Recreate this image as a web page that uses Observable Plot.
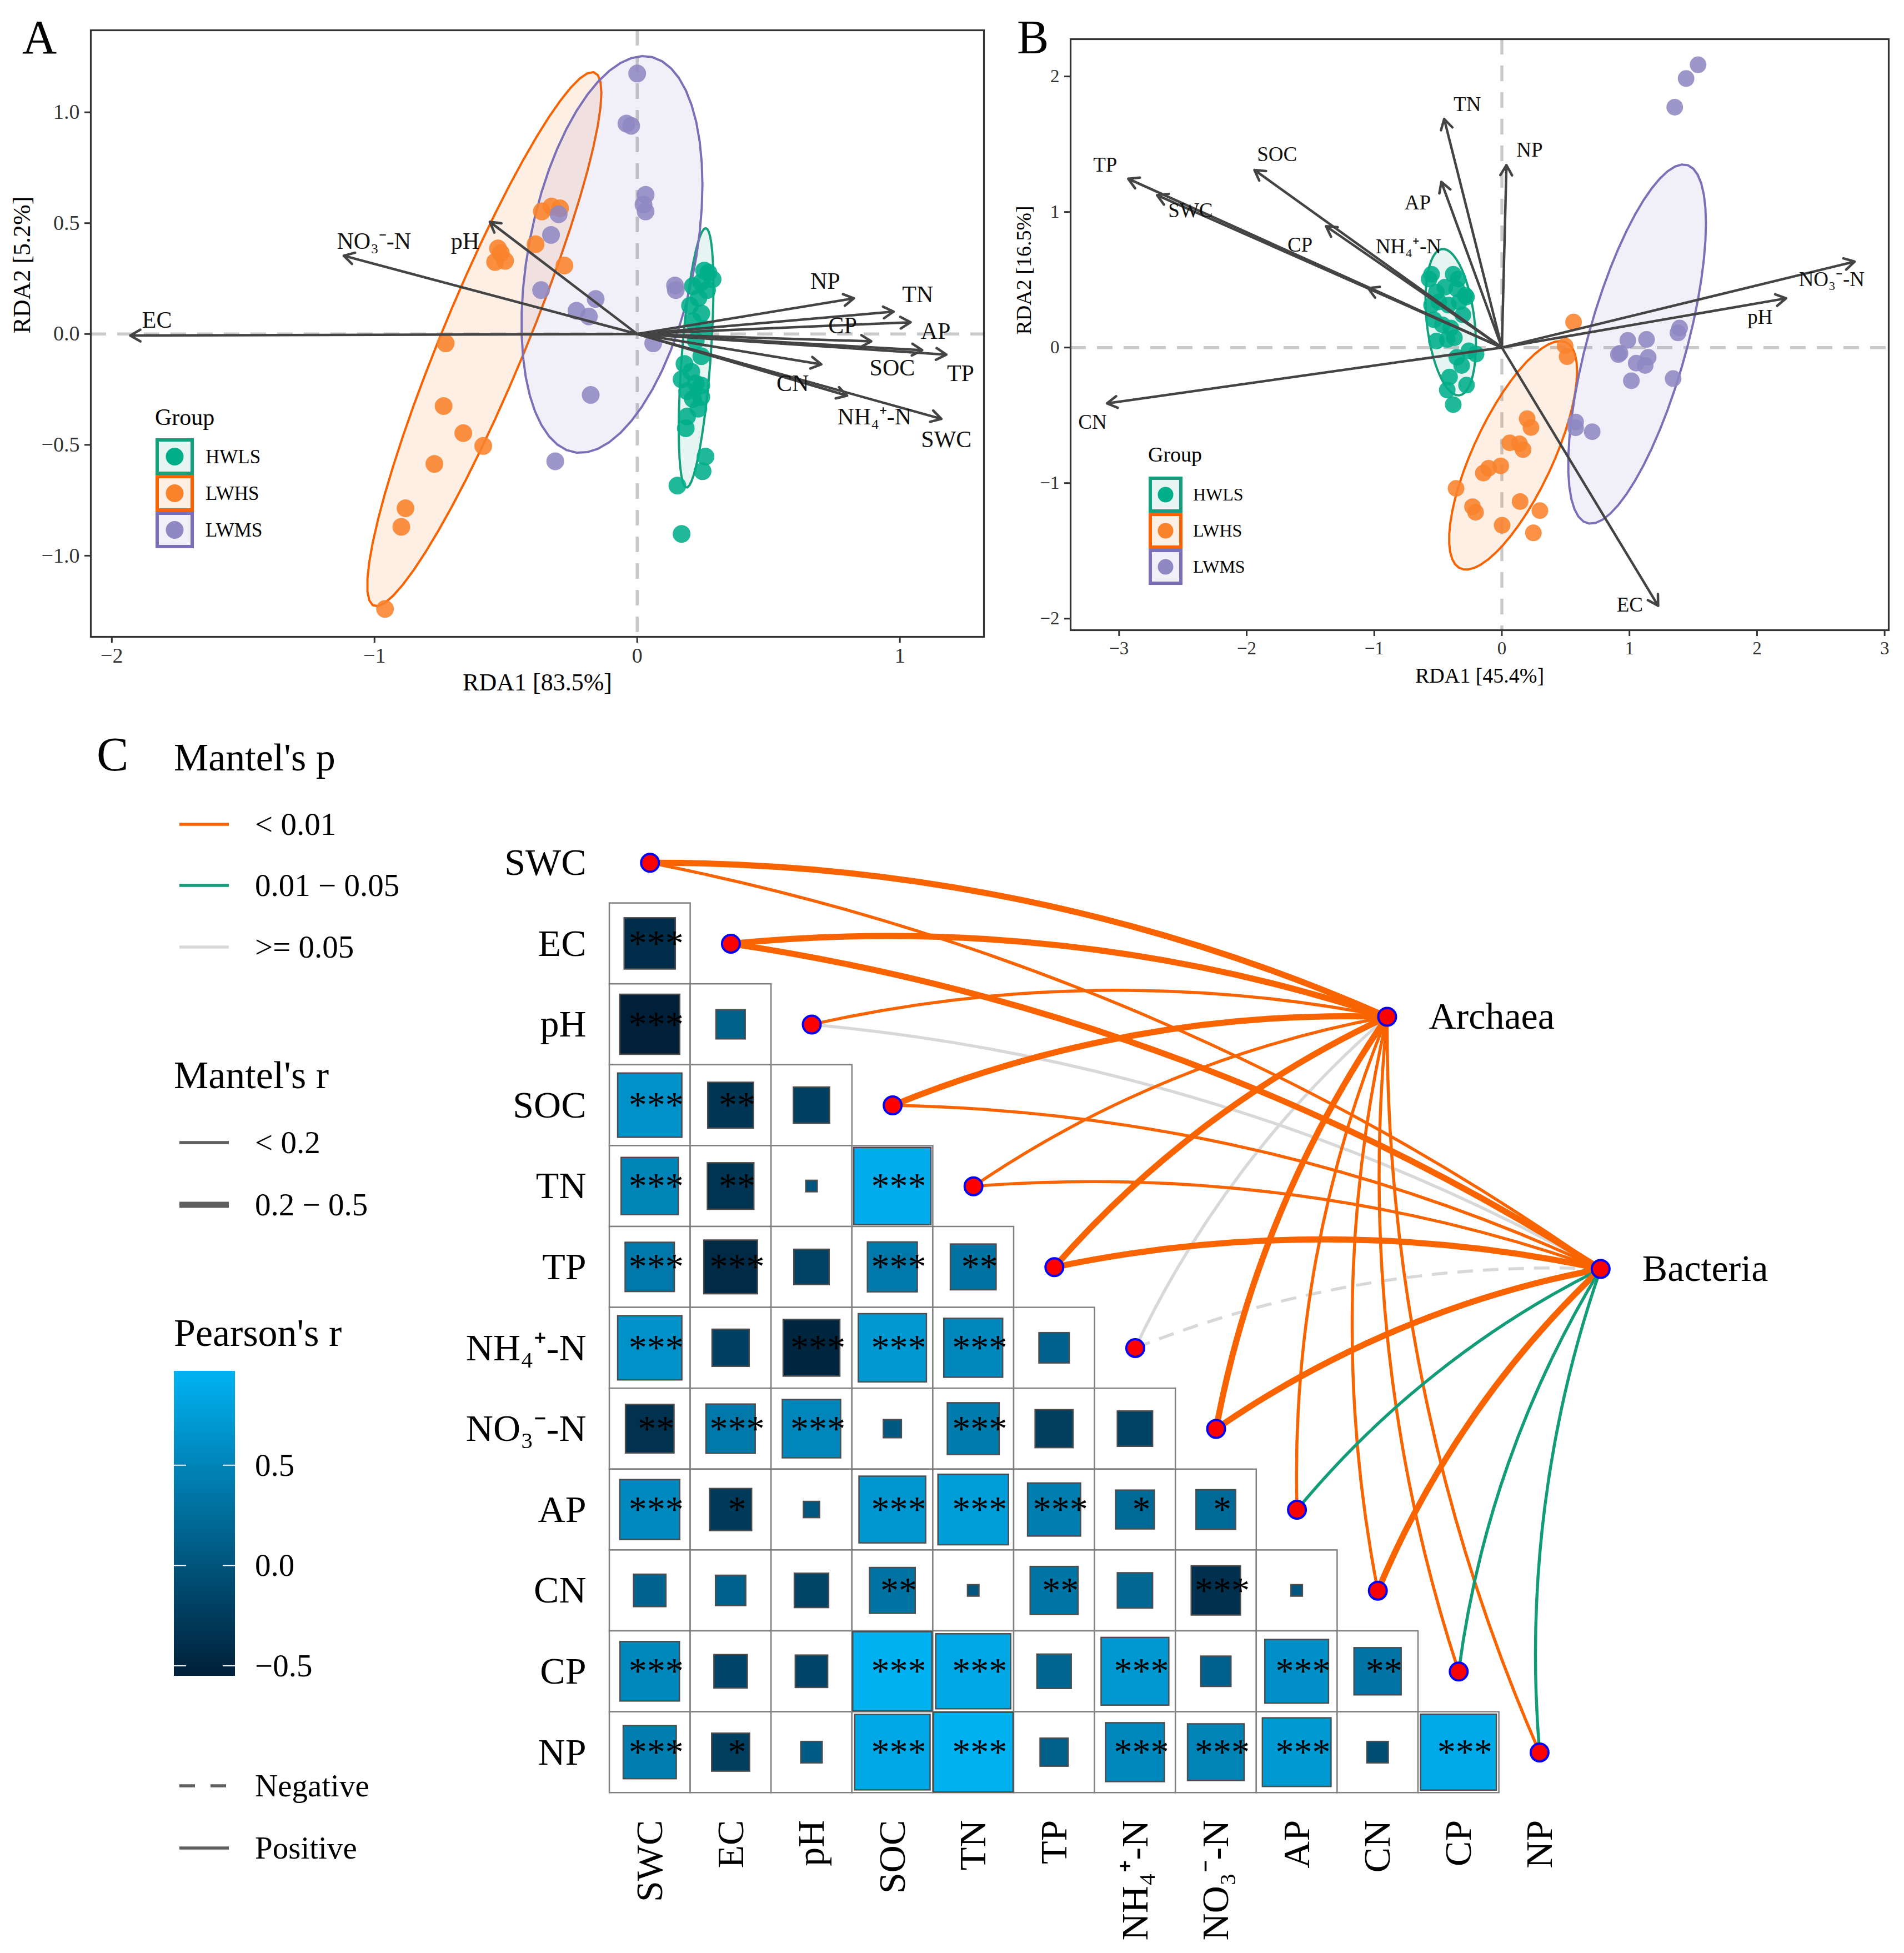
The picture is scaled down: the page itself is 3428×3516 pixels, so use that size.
<!DOCTYPE html>
<html><head><meta charset="utf-8">
<script src="https://cdn.jsdelivr.net/npm/d3@7"></script>
<script src="https://cdn.jsdelivr.net/npm/@observablehq/plot@0.6"></script>
<style>
body{margin:0;background:#fff;}
#fig{position:relative;width:3428px;height:3516px;background:#fff;overflow:hidden;}
.pane{position:absolute;}
</style></head><body><div id="fig"></div>
<script>
// ---------------- DATA ----------------
const groups = ["HWLS", "LWHS", "LWMS"];
const groupPointColor = ["#00AE8A", "#F9822A", "#9088C2"];
const groupLineColor = ["#13A07C", "#F86200", "#7A70B8"];

// Panel A sample scores
const aHWLSx = [0.212,0.244,0.271,0.287,0.266,0.233,0.244,0.212,0.255,0.223,0.244,0.180,0.206,0.169,0.223,0.244,0.190,0.212,0.244,0.233,0.190,0.185,0.255,0.201,0.260,0.249,0.153,0.169];
const aHWLSy = [0.216,0.233,0.277,0.247,0.198,0.163,0.093,0.058,0.023,-0.030,-0.100,-0.135,-0.170,-0.205,-0.223,-0.232,-0.258,-0.293,-0.284,-0.337,-0.372,-0.425,0.286,0.128,-0.553,-0.619,-0.684,-0.902];
const aLWHSx = [-0.363,-0.326,-0.294,-0.387,-0.530,-0.541,-0.503,-0.519,-0.277,-0.729,-0.737,-0.662,-0.586,-0.772,-0.882,-0.898,-0.960];
const aLWHSy = [0.553,0.575,0.567,0.405,0.386,0.325,0.330,0.365,0.309,-0.042,-0.325,-0.447,-0.505,-0.586,-0.786,-0.870,-1.240];
const aLWMSx = [0.000,-0.041,-0.023,0.032,0.024,0.032,-0.299,-0.328,-0.366,-0.158,-0.231,-0.184,0.144,0.147,0.061,-0.177,-0.312];
const aLWMSy = [1.175,0.949,0.939,0.628,0.584,0.553,0.540,0.447,0.198,0.158,0.105,0.079,0.219,0.198,-0.042,-0.275,-0.574];

// Panel A environmental vectors
const aEnv  = ["EC","NO₃⁻-N","pH","NP","TN","CP","AP","SOC","TP","CN","NH₄⁺-N","SWC"];
const aRDA1 = [-1.930,-1.117,-0.561,0.825,0.976,0.891,1.041,1.085,1.177,0.701,0.799,1.158];
const aRDA2 = [-0.007,0.353,0.506,0.161,0.101,-0.033,0.053,-0.073,-0.093,-0.137,-0.278,-0.383];
const aLabX = [-1.828,-1.002,-0.655,0.716,1.068,0.782,1.136,0.971,1.231,0.592,0.903,1.177];
const aLabY = [0.063,0.417,0.417,0.237,0.177,0.037,0.011,-0.153,-0.179,-0.223,-0.373,-0.477];

// Panel B sample scores
const bHWLSx = [-0.551,-0.570,-0.381,-0.343,-0.513,-0.447,-0.353,-0.287,-0.551,-0.494,-0.419,-0.334,-0.277,-0.466,-0.400,-0.513,-0.428,-0.372,-0.259,-0.202,-0.353,-0.315,-0.410,-0.277,-0.428,-0.381,-0.532,-0.306];
const bHWLSy = [0.541,0.505,0.541,0.505,0.409,0.445,0.433,0.385,0.313,0.337,0.313,0.337,0.373,0.168,0.144,0.048,0.060,0.072,-0.024,-0.048,-0.072,-0.132,-0.217,-0.277,-0.313,-0.421,0.205,0.241];
const bLWHSx = [0.562,0.496,0.511,0.198,0.228,0.062,0.138,0.166,-0.009,-0.104,-0.145,-0.359,-0.230,-0.206,0.143,0.298,0.002,0.247];
const bLWHSy = [0.188,0.012,-0.067,-0.525,-0.590,-0.703,-0.710,-0.753,-0.873,-0.890,-0.926,-1.039,-1.174,-1.215,-1.136,-1.203,-1.311,-1.367];
const bLWMSx = [1.538,1.444,1.355,1.393,1.380,0.987,1.134,0.926,0.913,1.147,1.053,1.123,1.015,1.342,0.578,0.578,0.708];
const bLWMSy = [2.086,1.985,1.773,0.144,0.108,0.053,0.060,-0.042,-0.052,-0.072,-0.115,-0.132,-0.245,-0.229,-0.549,-0.592,-0.621];

// Panel B environmental vectors
const bEnv  = ["TP","SWC","SOC","CP","NH₄⁺-N","AP","TN","NP","NO₃⁻-N","pH","EC","CN"];
const bRDA1 = [-2.928,-2.702,-1.939,-1.378,-1.048,-0.474,-0.452,0.036,2.765,2.228,1.225,-3.095];
const bRDA2 = [1.245,1.124,1.310,0.895,0.438,1.222,1.686,1.346,0.634,0.363,-1.905,-0.412];
const bLabX = [-3.109,-2.440,-1.762,-1.582,-0.732,-0.660,-0.271,0.217,2.585,2.024,1.003,-3.208];
const bLabY = [1.346,1.010,1.425,0.755,0.742,1.069,1.794,1.458,0.503,0.225,-1.899,-0.549];

// Panel C: environmental variables, Pearson's r (lower triangle, row by row)
const envVars = ["SWC","EC","pH","SOC","TN","TP","NH₄⁺-N","NO₃⁻-N","AP","CN","CP","NP"];
const pearsonR = [
  [],
  [-0.40],
  [-0.55, 0.13],
  [0.63, -0.32, -0.20],
  [0.50, -0.33, 0.02, 0.91],
  [0.37, -0.44, -0.19, 0.38, 0.32],
  [0.63, -0.21, -0.49, 0.71, 0.53, 0.14],
  [-0.36, 0.37, 0.52, 0.05, 0.41, -0.22, -0.19],
  [0.55, -0.27, 0.04, 0.68, 0.76, 0.43, 0.23, 0.24],
  [0.16, 0.14, -0.18, 0.32, 0.02, 0.35, 0.19, -0.37, 0.02],
  [0.54, -0.17, -0.16, 0.96, 0.86, 0.18, 0.70, 0.14, 0.62, 0.34],
  [0.43, -0.22, 0.07, 0.87, 0.97, 0.12, 0.53, 0.49, 0.72, -0.07, 0.88]
];
const pearsonSig = [
  [],
  ["***"],
  ["***",""],
  ["***","**",""],
  ["***","**","","***"],
  ["***","***","","***","**"],
  ["***","","***","***","***",""],
  ["**","***","***","","***","",""],
  ["***","*","","***","***","***","*","*"],
  ["","","","**","","**","","***",""],
  ["***","","","***","***","","***","","***","**"],
  ["***","*","","***","***","","***","***","***","","***"]
];

// Mantel tests
const mantelTargets = ["Archaea", "Bacteria"];
const pClasses = ["< 0.01", "0.01 − 0.05", ">= 0.05"];
const rClasses = ["< 0.2", "0.2 − 0.5"];
const mantelP = [
  ["< 0.01","< 0.01","< 0.01","< 0.01","< 0.01","< 0.01",">= 0.05","< 0.01","< 0.01","< 0.01","< 0.01","< 0.01"],
  ["< 0.01","< 0.01",">= 0.05","< 0.01","< 0.01","< 0.01",">= 0.05","< 0.01","0.01 − 0.05","< 0.01","0.01 − 0.05","0.01 − 0.05"]
];
const mantelRclass = [
  ["0.2 − 0.5","0.2 − 0.5","< 0.2","0.2 − 0.5","< 0.2","0.2 − 0.5","< 0.2","0.2 − 0.5","< 0.2","< 0.2","< 0.2","< 0.2"],
  ["< 0.2","0.2 − 0.5","< 0.2","< 0.2","< 0.2","0.2 − 0.5","< 0.2","0.2 − 0.5","< 0.2","0.2 − 0.5","< 0.2","< 0.2"]
];
const mantelSign = [
  ["Positive","Positive","Positive","Positive","Positive","Positive","Positive","Positive","Positive","Positive","Positive","Positive"],
  ["Positive","Positive","Positive","Positive","Positive","Positive","Negative","Positive","Positive","Positive","Positive","Positive"]
];
// layout positions of the two community nodes (grid units)
const targetX = [9.615, 12.255];
const targetY = [2.404, 5.522];

// ---------------- STYLE ----------------
const FONT = '"Liberation Serif","Times New Roman",Times,serif';
const pColor = {"< 0.01": "#F96400", "0.01 − 0.05": "#139C78", ">= 0.05": "#D8D8D8"};
const rWidth = {"< 0.2": 5.5, "0.2 − 0.5": 11};
const lowCol = "#001F38", highCol = "#00B2F2";
const arrowCol = "#444444";
const zeroCol = "#C9C9C9";
const ellipseLevel = 0.88;

const fig = document.getElementById("fig");
function place(node, left, top) {
  const d = document.createElement("div");
  d.className = "pane"; d.style.left = left + "px"; d.style.top = top + "px";
  d.appendChild(node); fig.appendChild(d);
}

// robust t ellipse like ggplot2::stat_ellipse(type = "t")
function tEllipse(xs, ys, level, segments = 51) {
  const n = xs.length, nu = 5, p = 2;
  let loc = [d3.mean(xs), d3.mean(ys)];
  let w = new Array(n).fill(1), X;
  for (let it = 0; it < 25; it++) {
    const w0 = w.slice();
    X = xs.map((x, i) => [x - loc[0], ys[i] - loc[1]]);
    const sw = d3.sum(w);
    let a = 0, b = 0, c = 0;
    X.forEach(([u, v], i) => { a += w[i]*u*u; b += w[i]*u*v; c += w[i]*v*v; });
    a /= sw; b /= sw; c /= sw;
    const det = a*c - b*b;
    const Q = X.map(([u, v]) => (c*u*u - 2*b*u*v + a*v*v) / det);
    w = Q.map(q => (nu + p) / (nu + q));
    const s2 = d3.sum(w);
    loc = [d3.sum(xs, (x, i) => w[i]*x) / s2, d3.sum(ys, (y, i) => w[i]*y) / s2];
    if (d3.max(w, (wi, i) => Math.abs(wi - w0[i])) < 0.01) break;
  }
  let a = 0, b = 0, c = 0;
  X.forEach(([u, v], i) => { a += w[i]*u*u; b += w[i]*u*v; c += w[i]*v*v; });
  a /= n; b /= n; c /= n;
  const dfd = n - 1;
  const qf = dfd / 2 * (Math.pow(1 - level, -2 / dfd) - 1);
  const radius = Math.sqrt(2 * qf);
  const r11 = Math.sqrt(a), r12 = b / r11, r22 = Math.sqrt(Math.max(c - r12*r12, 1e-12));
  return d3.range(segments + 1).map(k => {
    const t = k * 2 * Math.PI / segments, ct = Math.cos(t), st = Math.sin(t);
    return {x: loc[0] + radius * ct * r11, y: loc[1] + radius * (ct * r12 + st * r22)};
  });
}

function ordPlot(cfg) {
  const pts = [];
  cfg.sets.forEach(([xs, ys], g) => xs.forEach((x, i) => pts.push({g, x, y: ys[i]})));
  const vec = cfg.env.map((name, i) => ({name, x: cfg.rda1[i], y: cfg.rda2[i], lx: cfg.labx[i], ly: cfg.laby[i]}));
  const ellMarks = cfg.sets.map(([xs, ys], g) =>
    Plot.line(tEllipse(xs, ys, ellipseLevel), {x: "x", y: "y", curve: "linear-closed", fill: groupLineColor[g], fillOpacity: 0.1,
      stroke: groupLineColor[g], strokeWidth: 4}));
  return Plot.plot({
    width: cfg.width, height: cfg.height,
    marginLeft: cfg.ml, marginRight: cfg.mr, marginTop: cfg.mt, marginBottom: cfg.mb,
    x: {domain: cfg.xd}, y: {domain: cfg.yd},
    style: {fontFamily: FONT, background: "transparent", overflow: "visible", color: "#000"},
    marks: [
      Plot.ruleX([0], {stroke: zeroCol, strokeWidth: 5.5, strokeDasharray: "28,20"}),
      Plot.ruleY([0], {stroke: zeroCol, strokeWidth: 5.5, strokeDasharray: "28,20"}),
      ...ellMarks,
      Plot.dot(pts, {x: "x", y: "y", r: cfg.pr, fill: d => groupPointColor[d.g], fillOpacity: 0.88}),
      Plot.arrow(vec, {x1: () => 0, y1: () => 0, x2: "x", y2: "y", stroke: arrowCol, strokeWidth: 4.5, headLength: 7}),
      Plot.text(vec, {x: "lx", y: "ly", text: "name", fontSize: cfg.lfs, lineAnchor: "middle", fill: "#111"}),
      Plot.frame({stroke: "#333", strokeWidth: 3.2}),
      Plot.axisX({ticks: cfg.xt, tickFormat: d3.format(cfg.xf), tickSize: 11, tickPadding: 9, fontSize: cfg.tfs, label: null, color: "#333", strokeWidth: 3}),
      Plot.axisY({ticks: cfg.yt, tickFormat: d3.format(cfg.yf), tickSize: 11, tickPadding: 9, fontSize: cfg.tfs, label: null, color: "#333", strokeWidth: 3}),
      Plot.text([cfg.xlab], {frameAnchor: "bottom", dy: 82, lineAnchor: "middle", fontSize: cfg.afs}),
      Plot.text([cfg.ylab], {frameAnchor: "left", dx: cfg.ydx, rotate: -90, lineAnchor: "middle", fontSize: cfg.afs})
    ]
  });
}

const plotA = ordPlot({
  width: 1800, height: 1260, ml: 163, mr: 29, mt: 54, mb: 114,
  xd: [-2.080, 1.320], yd: [-1.366, 1.370],
  sets: [[aHWLSx, aHWLSy], [aLWHSx, aLWHSy], [aLWMSx, aLWMSy]],
  env: aEnv, rda1: aRDA1, rda2: aRDA2, labx: aLabX, laby: aLabY,
  xt: [-2, -1, 0, 1], yt: [-1, -0.5, 0, 0.5, 1], xf: "d", yf: ".1f",
  pr: 16, lfs: 42, tfs: 38, afs: 44, xlab: "RDA1 [83.5%]", ylab: "RDA2 [5.2%]", ydx: -124
});
place(plotA, 0, 0);

const plotB = ordPlot({
  width: 1628, height: 1260, ml: 127, mr: 28, mt: 70, mb: 126,
  xd: [-3.380, 3.032], yd: [-2.085, 2.275],
  sets: [[bHWLSx, bHWLSy], [bLWHSx, bLWHSy], [bLWMSx, bLWMSy]],
  env: bEnv, rda1: bRDA1, rda2: bRDA2, labx: bLabX, laby: bLabY,
  xt: [-3, -2, -1, 0, 1, 2, 3], yt: [-2, -1, 0, 1, 2], xf: "d", yf: "d",
  pr: 15, lfs: 37, tfs: 33, afs: 38, xlab: "RDA1 [45.4%]", ylab: "RDA2 [16.5%]", ydx: -84
});
place(plotB, 1800, 0);

// ---------------- PANEL C ----------------
const cells = [];
pearsonR.forEach((row, i) => row.forEach((r, j) => cells.push({i, j, r, sig: pearsonSig[i][j]})));
const allR = cells.map(d => d.r);
const rDomain = [d3.min(allR), d3.max(allR)];
const half = d => Math.sqrt(Math.abs(d.r)) / 2;
const envNodes = envVars.map((v, i) => ({v, i, x: i + 0.5, y: i + 0.5}));
const links = [];
mantelTargets.forEach((t, k) => envVars.forEach((v, i) => links.push({
  target: t, env: v, x1: i + 0.5, y1: i + 0.5, x2: targetX[k], y2: targetY[k],
  p: mantelP[k][i], rc: mantelRclass[k][i], sign: mantelSign[k][i]
})));
const grey = links.filter(d => d.p === ">= 0.05");
const sig = links.filter(d => d.p !== ">= 0.05");
const targets = mantelTargets.map((t, k) => ({t, x: targetX[k], y: targetY[k]}));
const linkOpts = {x1: "x1", y1: "y1", x2: "x2", y2: "y2", bend: 12, headLength: 0,
  stroke: d => pColor[d.p], strokeWidth: d => rWidth[d.rc], strokeLinecap: "butt"};

const plotC = Plot.plot({
  width: 2628, height: 2116,
  x: {domain: [0, 12], range: [297, 297 + 12 * 145.6], axis: null},
  y: {domain: [0, 12], range: [80, 80 + 12 * 145.6], axis: null},
  color: {type: "linear", domain: rDomain, range: [lowCol, highCol]},
  style: {fontFamily: FONT, background: "transparent", overflow: "visible", color: "#000"},
  marks: [
    Plot.rect(cells, {x1: d => d.j, x2: d => d.j + 1, y1: d => d.i, y2: d => d.i + 1, fill: "white", stroke: "#808080", strokeWidth: 2.5}),
    Plot.rect(cells, {x1: d => d.j + 0.5 - half(d), x2: d => d.j + 0.5 + half(d), y1: d => d.i + 0.5 - half(d), y2: d => d.i + 0.5 + half(d),
      fill: "r", stroke: "#4D4D4D", strokeWidth: 2.5}),
    Plot.text(cells.filter(d => d.sig), {x: d => d.j + 0.5, y: d => d.i + 0.5, text: "sig", fontSize: 66, dx: 11, lineAnchor: "middle"}),
    Plot.arrow(grey.filter(d => d.sign === "Positive"), linkOpts),
    Plot.arrow(grey.filter(d => d.sign === "Negative"), {...linkOpts, strokeDasharray: "28,18"}),
    Plot.arrow(sig.filter(d => d.sign === "Positive"), linkOpts),
    Plot.arrow(sig.filter(d => d.sign === "Negative"), {...linkOpts, strokeDasharray: "28,18"}),
    Plot.dot([...envNodes, ...targets], {x: "x", y: "y", r: 16, fill: "#FF0000", stroke: "#0000FF", strokeWidth: 4}),
    Plot.text(envNodes, {x: () => 0, y: "y", text: "v", textAnchor: "end", dx: -42, fontSize: 68, lineAnchor: "middle"}),
    Plot.text(envNodes, {x: "x", y: () => 12, text: "v", rotate: -90, textAnchor: "end", dy: 49, fontSize: 68, lineAnchor: "middle"}),
    Plot.text(targets, {x: "x", y: "y", text: "t", textAnchor: "start", dx: 75, fontSize: 68, lineAnchor: "middle"})
  ]
});
place(plotC, 800, 1400);

// ---------------- LEGENDS (overlay) ----------------
function groupLegend(x, y0, kw, kh, pr, tfs, lfs, titleBase, labX) {
  let s = `<text x="${x - 1}" y="${titleBase}" font-size="${tfs}">Group</text>`;
  groups.forEach((g, k) => {
    const y = y0 + k * kh;
    s += `<rect x="${x + 3}" y="${y + 3}" width="${kw - 6}" height="${kh - 6}" fill="${groupLineColor[k]}" fill-opacity="0.1" stroke="${groupLineColor[k]}" stroke-width="6"/>`;
    s += `<circle cx="${x + kw / 2}" cy="${y + kh / 2}" r="${pr}" fill="${groupPointColor[k]}"/>`;
    s += `<text x="${labX}" y="${y + kh / 2 + lfs * 0.34}" font-size="${lfs}">${g}</text>`;
  });
  return s;
}
const stops = d3.range(0, 21).map(k => `<stop offset="${k / 20}" stop-color="${d3.interpolateRgb(lowCol, highCol)(k / 20)}"/>`).join("");
const barTop = 2468, barBot = 3017;
const yBar = v => barBot - (v - rDomain[0]) / (rDomain[1] - rDomain[0]) * (barBot - barTop);
let ov = `<svg xmlns="http://www.w3.org/2000/svg" width="3428" height="3516" style="position:absolute;left:0;top:0;pointer-events:none" font-family='${FONT}'>`;
ov += `<defs><linearGradient id="pr" x1="0" y1="1" x2="0" y2="0">${stops}</linearGradient></defs>`;
ov += `<text x="40" y="96" font-size="86">A</text><text x="1831" y="96" font-size="86">B</text><text x="174" y="1387" font-size="86">C</text>`;
ov += groupLegend(280, 789, 69, 66, 16, 42, 35, 765, 370);
ov += groupLegend(2068, 858, 61, 65, 14, 38, 32, 831, 2148);
ov += `<text x="313" y="1387" font-size="70">Mantel's p</text>`;
pClasses.forEach((c, k) => {
  const y = [1484, 1594, 1705][k];
  ov += `<line x1="323" x2="412" y1="${y}" y2="${y}" stroke="${pColor[c]}" stroke-width="5.5"/>`;
  ov += `<text x="459" y="${y + 19}" font-size="57">${c.replace("<", "&lt;").replace(">", "&gt;")}</text>`;
});
ov += `<text x="313" y="1959" font-size="70">Mantel's r</text>`;
rClasses.forEach((c, k) => {
  const y = [2057, 2169][k];
  ov += `<line x1="323" x2="412" y1="${y}" y2="${y}" stroke="#5E5E5E" stroke-width="${rWidth[c]}"/>`;
  ov += `<text x="459" y="${y + 19}" font-size="57">${c.replace("<", "&lt;")}</text>`;
});
ov += `<text x="313" y="2423" font-size="70">Pearson's r</text>`;
ov += `<rect x="313" y="${barTop}" width="110" height="${barBot - barTop}" fill="url(#pr)"/>`;
[-0.5, 0, 0.5].forEach(v => {
  const y = yBar(v);
  ov += `<line x1="313" x2="335" y1="${y}" y2="${y}" stroke="white" stroke-width="2"/><line x1="401" x2="423" y1="${y}" y2="${y}" stroke="white" stroke-width="2"/>`;
  ov += `<text x="459" y="${y + 19}" font-size="57">${d3.format(".1f")(v)}</text>`;
});
ov += `<line x1="323" x2="412" y1="3215" y2="3215" stroke="#5E5E5E" stroke-width="5.5" stroke-dasharray="28,28"/>`;
ov += `<text x="459" y="3234" font-size="57">Negative</text>`;
ov += `<line x1="323" x2="412" y1="3327" y2="3327" stroke="#5E5E5E" stroke-width="5.5"/>`;
ov += `<text x="459" y="3346" font-size="57">Positive</text>`;
ov += `</svg>`;
fig.insertAdjacentHTML("beforeend", ov);
</script></body></html>
